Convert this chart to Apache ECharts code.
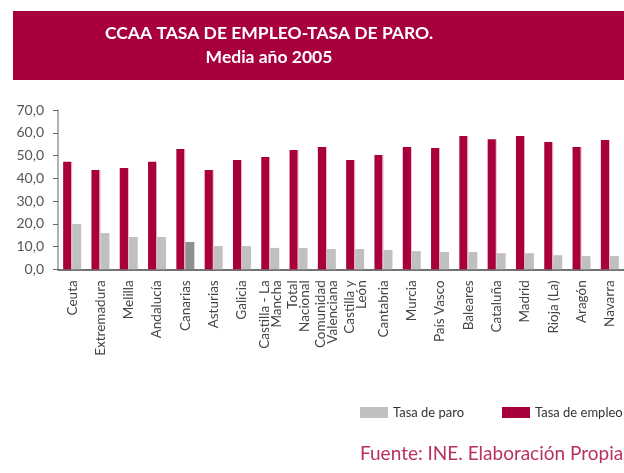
<!DOCTYPE html>
<html>
<head>
<meta charset="utf-8">
<script src="https://cdn.jsdelivr.net/npm/echarts@6/dist/echarts.min.js"></script>
<style>
  html, body { margin: 0; padding: 0; background: #fff; }
  #chart { width: 624px; height: 473px; }
</style>
</head>
<body>
<div id="chart"></div>
<script>
// comunidades, de mayor a menor tasa de paro
var regiones = ['Ceuta', 'Extremadura', 'Melilla', 'Andalucía', 'Canarias', 'Asturias', 'Galicia',
  'Castilla - La\nMancha', 'Total\nNacional', 'Comunidad\nValenciana', 'Castilla y\nLeón', 'Cantabria',
  'Murcia', 'País Vasco', 'Baleares', 'Cataluña', 'Madrid', 'Rioja (La)', 'Aragón', 'Navarra'];
var tasaEmpleo = [47.3, 43.6, 44.5, 47.3, 52.9, 43.6, 48.0, 49.3, 52.4, 53.7,
  48.0, 50.2, 53.7, 53.3, 58.6, 57.2, 58.6, 55.9, 53.7, 56.8];
var tasaParo = [19.9, 15.9, 14.2, 14.2, 12.0, 10.2, 10.2, 9.4, 9.4, 8.9,
  8.9, 8.5, 8.0, 7.6, 7.6, 7.1, 7.1, 6.2, 5.8, 5.8];
var yTicks = ['0,0', '10,0', '20,0', '30,0', '40,0', '50,0', '60,0', '70,0'];
var destacada = 'Canarias'; // barra de paro en gris oscuro

var rojo = '#A8003D';
var gris = '#C0C0C0';

var chart = echarts.init(document.getElementById('chart'));

var paroData = tasaParo.map(function (v, i) {
  if (regiones[i] == destacada) {
    return { value: v, itemStyle: { color: '#8F8F8F' } };
  }
  return v;
});

var tituloFont = { fill: '#fff', fontSize: 17.5, fontWeight: 'bold', fontFamily: 'Lato', textAlign: 'center' };

var option = {
  animation: false,
  textStyle: { fontFamily: 'Lato' },
  graphic: [{
    type: 'rect',
    shape: { x: 13, y: 11, width: 620, height: 69 },
    style: { fill: rojo },
    z: 0
  }, {
    type: 'text', x: 269, y: 24, z: 10,
    style: Object.assign({ text: 'CCAA TASA DE EMPLEO-TASA DE PARO.' }, tituloFont)
  }, {
    type: 'text', x: 269, y: 48, z: 10,
    style: Object.assign({ text: 'Media año 2005' }, tituloFont)
  }],
  title: {
    text: 'Fuente: INE. Elaboración Propia',
    left: 355, top: 439,
    textStyle: { color: '#B8315F', fontSize: 19, fontWeight: 'normal', fontFamily: 'Lato' }
  },
  legend: [{
    data: [{ name: 'Tasa de paro', itemStyle: { color: gris } }],
    left: 355, top: 401,
    itemWidth: 28, itemHeight: 11, itemGap: 7,
    icon: 'rect',
    textStyle: { color: '#333', fontSize: 13, fontFamily: 'Lato' }
  }, {
    data: [{ name: 'Tasa de empleo', itemStyle: { color: rojo } }],
    left: 497, top: 401,
    itemWidth: 28, itemHeight: 11, itemGap: 7,
    icon: 'rect',
    textStyle: { color: '#333', fontSize: 13, fontFamily: 'Lato' }
  }],
  grid: { left: 58, top: 110, width: 569, height: 159.3 },
  xAxis: {
    type: 'category',
    data: regiones,
    axisLine: { lineStyle: { color: '#444', width: 1.5 } },
    axisTick: { length: 3, lineStyle: { color: '#444' } },
    axisLabel: {
      rotate: 90, interval: 0, margin: 11,
      color: '#444', fontSize: 13.5, lineHeight: 12, fontFamily: 'Lato'
    }
  },
  yAxis: {
    type: 'value',
    min: 0, max: 70, interval: 10,
    axisLine: { show: true, lineStyle: { color: '#999', width: 1.5 } },
    axisTick: { show: true, length: 5, lineStyle: { color: '#666' } },
    splitLine: { show: false },
    axisLabel: {
      color: '#555', fontSize: 14, margin: 14, fontFamily: 'Lato',
      formatter: function (v) { return yTicks[Math.round(v / 10)]; }
    }
  },
  series: [{
    name: 'Tasa de empleo',
    type: 'bar',
    data: tasaEmpleo,
    barWidth: 9,
    barGap: '0%',
    itemStyle: {
      color: new echarts.graphic.LinearGradient(0, 0, 1, 0, [
        { offset: 0, color: rojo }, { offset: 0.86, color: rojo },
        { offset: 0.9, color: '#E8A7BE' }, { offset: 1, color: '#E8A7BE' }
      ])
    }
  }, {
    name: 'Tasa de paro',
    type: 'bar',
    data: paroData,
    barWidth: 9,
    itemStyle: { color: gris }
  }]
};

chart.setOption(option);
</script>
</body>
</html>
